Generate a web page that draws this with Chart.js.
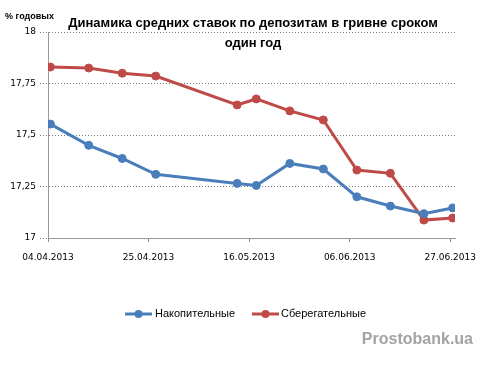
<!DOCTYPE html>
<html><head><meta charset="utf-8">
<script src="https://cdn.jsdelivr.net/npm/chart.js@4/dist/chart.umd.min.js"></script>
<style>html,body{margin:0;padding:0;background:#fff;} canvas{display:block;}</style>
</head><body>
<canvas id="c" width="482" height="365"></canvas>
<script>
const dates = ['04.04.2013','12.04.2013','19.04.2013','26.04.2013','13.05.2013','17.05.2013','24.05.2013','31.05.2013','07.06.2013','14.06.2013','21.06.2013','27.06.2013'];
const nakopitelnye = [17.553,17.45,17.386,17.309,17.265,17.255,17.362,17.335,17.20,17.155,17.118,17.146];
const sberegatelnye = [17.83,17.825,17.80,17.786,17.646,17.675,17.617,17.573,17.33,17.314,17.087,17.097];
const tickDates = ['04.04.2013','25.04.2013','16.05.2013','06.06.2013','27.06.2013'];
const yTicks = [17,17.25,17.5,17.75,18];
const seriesNames = ['Накопительные','Сберегательные'];
const seriesColors = ['#4A7EBB','#BE4B48'];
const titleLines = ['Динамика средних ставок по депозитам в гривне сроком','один год'];
const yAxisTitle = '% годовых';
const watermark = 'Prostobank.ua';

function dayNum(s){const p=s.split('.');return Date.UTC(+p[2],+p[1]-1,+p[0])/86400000;}
const d0 = dayNum(dates[0]);
const lastDay = dayNum(dates[dates.length-1]) - d0;
const dayIdx = s => dayNum(s) - d0;
const labelFor = {};
tickDates.forEach(s => labelFor[dayIdx(s)] = s);

function series(vals){return vals.map((v,i)=>({x: dayIdx(dates[i]) + 0.5, y: v}));}

const FONT = 'DejaVu Sans';

const overlay = {
  id:'overlay',
  afterDraw(chart){
    const ctx = chart.ctx;
    ctx.save();
    ctx.fillStyle = '#000';
    ctx.textAlign = 'center';
    ctx.textBaseline = 'middle';
    ctx.font = 'bold 13px "Liberation Sans"';
    ctx.fillText(titleLines[0], 253, 23);
    ctx.fillText(titleLines[1], 253, 43);
    ctx.textAlign = 'left';
    ctx.font = 'bold 9px "Liberation Sans"';
    ctx.fillText(yAxisTitle, 5, 17);
    // legend
    const legendItems = [{x0:125, text:155}, {x0:252, text:281}];
    ctx.font = '11px "Liberation Sans"';
    legendItems.forEach((it,i)=>{
      ctx.strokeStyle = seriesColors[i];
      ctx.lineWidth = 3;
      ctx.beginPath(); ctx.moveTo(it.x0, 314); ctx.lineTo(it.x0+27, 314); ctx.stroke();
      ctx.fillStyle = seriesColors[i];
      ctx.beginPath(); ctx.arc(it.x0+13.5, 314, 4, 0, Math.PI*2); ctx.fill();
      ctx.fillStyle = '#000';
      ctx.fillText(seriesNames[i], it.text, 314);
    });
    ctx.font = 'bold 16px "Liberation Sans"';
    ctx.fillStyle = '#A3A3A3';
    ctx.textAlign = 'right';
    ctx.fillText(watermark, 473, 340);
    ctx.restore();
  }
};

new Chart(document.getElementById('c'), {
  type:'line',
  data:{datasets:[
    {label:seriesNames[0], data:series(nakopitelnye), borderColor:seriesColors[0], backgroundColor:seriesColors[0], borderWidth:3, pointRadius:4, pointBorderWidth:1, tension:0},
    {label:seriesNames[1], data:series(sberegatelnye), borderColor:seriesColors[1], backgroundColor:seriesColors[1], borderWidth:3, pointRadius:4, pointBorderWidth:1, tension:0}
  ]},
  options:{
    responsive:false, animation:false, devicePixelRatio:1,
    layout:{padding:{top:32, right:27, bottom:97, left:0}},
    plugins:{legend:{display:false}, tooltip:{enabled:false}, title:{display:false}},
    scales:{
      x:{type:'linear', min:0, max:lastDay+1,
        afterBuildTicks: s => { s.ticks = tickDates.map(t=>({value: dayIdx(t)})); },
        afterFit: s => { s.height = 30; s.paddingLeft = 0; s.paddingRight = 0; },
        ticks:{autoSkip:false, maxRotation:0, padding:10, color:'#000', font:{family:FONT, size:9}, callback:v=>labelFor[v]||''},
        grid:{drawOnChartArea:false, drawTicks:true, tickLength:4, color:'#8C8C8C'},
        border:{color:'#999999', width:1}
      },
      y:{min:17, max:18,
        afterBuildTicks: s => { s.ticks = yTicks.map(v=>({value:v})); },
        afterFit: s => { s.width = 48; s.paddingTop = 0; s.paddingBottom = 0; },
        ticks:{padding:4, color:'#000', font:{family:FONT, size:9}, callback:v=>String(v).replace('.',',')},
        grid:{color:'#7a7a7a', lineWidth:1, drawTicks:true, tickLength:8, tickColor:'#7a7a7a', tickBorderDash:[1,2]},
        border:{color:'#999999', width:1, dash:[1,2]}
      }
    }
  },
  plugins:[overlay]
});
</script>
</body></html>
